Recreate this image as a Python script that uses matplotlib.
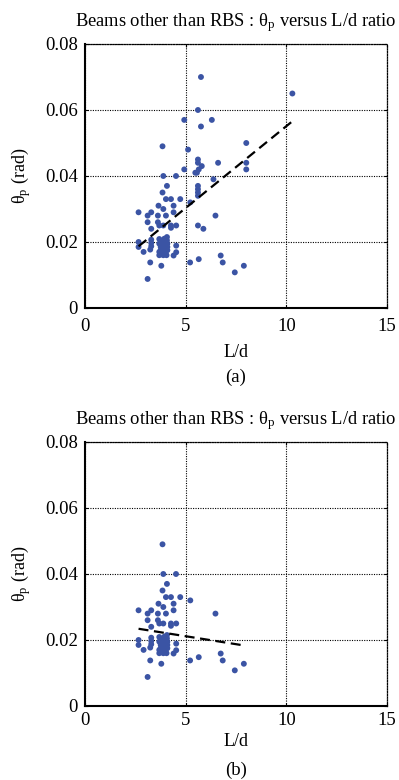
import matplotlib
matplotlib.use("Agg")
import matplotlib.pyplot as plt
import numpy as np

plt.rcParams['font.family'] = ['Liberation Serif', 'DejaVu Serif']
plt.rcParams['mathtext.fontset'] = 'custom'
plt.rcParams['mathtext.rm'] = 'Liberation Serif'
plt.rcParams['mathtext.it'] = 'Liberation Serif:italic'

# ---------------- data ----------------
# points shared by both panels (L/d, theta_p)
ld_common = [3.85, 3.89, 4.52, 4.07, 3.85, 4.02, 4.27, 4.73, 5.23, 3.65, 4.40, 3.89,
             2.66, 3.29, 4.40, 3.11, 3.62, 4.02, 6.48, 3.11, 3.62, 3.69, 3.89, 4.27,
             4.27, 4.53, 3.29,
             2.66, 2.66, 2.91, 3.29, 3.29, 3.29, 3.24, 3.69, 3.69, 3.69, 3.69,
             3.76, 3.76, 3.76, 3.89, 3.89, 3.89, 3.89, 3.89, 4.00, 4.00, 4.00, 4.00,
             4.05, 4.07, 4.07, 4.09, 4.09, 4.09, 3.82, 3.94,
             4.53, 4.53, 4.40, 3.24, 3.79, 3.11,
             5.22, 5.65, 6.74, 6.84, 7.44, 7.89]
theta_common = [0.049, 0.040, 0.040, 0.037, 0.035, 0.033, 0.033, 0.033, 0.032, 0.031, 0.031, 0.030,
                0.029, 0.029, 0.029, 0.028, 0.028, 0.028, 0.028, 0.026, 0.026, 0.025, 0.025, 0.025,
                0.0243, 0.025, 0.024,
                0.020, 0.0185, 0.017, 0.0207, 0.0197, 0.0187, 0.0177, 0.0209, 0.0195, 0.017, 0.016,
                0.0185, 0.0175, 0.0165, 0.0200, 0.0190, 0.0180, 0.0170, 0.0160, 0.0195, 0.0185, 0.0175, 0.0165,
                0.0160, 0.0215, 0.0205, 0.0195, 0.0185, 0.0175, 0.0200, 0.0210,
                0.0189, 0.0169, 0.0159, 0.0138, 0.0128, 0.0088,
                0.0138, 0.0148, 0.0159, 0.0138, 0.0108, 0.0128]

# extra points shown only in panel (a)
ld_extra_a = [5.76, 10.30, 5.61, 4.93, 6.30, 5.76, 8.01, 5.12, 5.61, 5.61, 6.61, 8.01,
              5.80, 5.65, 4.93, 8.01, 5.56, 5.48, 6.38, 5.61, 5.61, 5.61, 5.61, 5.61, 5.88]
theta_extra_a = [0.070, 0.065, 0.060, 0.057, 0.057, 0.055, 0.050, 0.048, 0.045, 0.044, 0.044, 0.044,
                 0.043, 0.042, 0.042, 0.042, 0.041, 0.041, 0.039, 0.037, 0.036, 0.035, 0.034, 0.025, 0.024]

# trend lines: (L/d start, L/d end, slope, intercept)
trend_a = (2.66, 10.30, 0.00496, 0.00550)
trend_b = (2.66, 7.84, -0.000965, 0.02597)

xticks = [0, 5, 10, 15]
yticks = [0, 0.02, 0.04, 0.06, 0.08]
ytick_labels = ['0', '0.02', '0.04', '0.06', '0.08']
title = 'Beams other than RBS : θ$_\\mathrm{p}$ versus L/d ratio'
ylabel = 'θ$_\\mathrm{p}$ (rad)'
xlabel = 'L/d'
panel_labels = ['(a)', '(b)']

# ---------------- plotting ----------------
W, H = 399, 780
fig = plt.figure(figsize=(W / 100, H / 100), dpi=100)

dot_color = '#3B54A4'


def panel(rect, ld, th, trend, plabel, plabel_y, xpad, xlabelpad):
    ax = fig.add_axes(rect)
    ax.scatter(ld, th, s=18, color=dot_color, edgecolors='none', zorder=3)
    x0, x1, m, b = trend
    xs = np.array([x0, x1])
    ax.plot(xs, m * xs + b, color='black', lw=1.6, ls=(0, (4.5, 2.5)), zorder=4)
    ax.set_xlim(0, 15)
    ax.set_ylim(0, 0.08)
    ax.set_xticks(xticks)
    ax.set_xticklabels([str(t) for t in xticks])
    ax.set_yticks(yticks)
    ax.set_yticklabels(ytick_labels)
    ax.grid(True, color='black', ls=(0, (1, 1.2)), lw=0.8)
    for s in ['left', 'bottom']:
        ax.spines[s].set_linewidth(1.5)
        ax.spines[s].set_color('black')
    for s in ['top', 'right']:
        ax.spines[s].set_linestyle((0, (1, 1.2)))
        ax.spines[s].set_linewidth(0.9)
    ax.tick_params(direction='in', length=2.5, width=0.8, labelsize=13.5,
                   top=True, right=True)
    ax.tick_params(axis='x', pad=xpad)
    ax.tick_params(axis='y', pad=5)
    ax.set_title(title, fontsize=13.3, pad=13)
    ax.set_ylabel(ylabel, fontsize=13, labelpad=9)
    ax.set_xlabel(xlabel, fontsize=13, labelpad=xlabelpad)
    fig.text(rect[0] + rect[2] / 2, plabel_y, plabel, ha='center', va='center', fontsize=13.5)
    return ax


left = 85 / W
width = 302 / W
# panel (a): axes top 44 px, bottom 308 px
panel([left, 1 - 308 / H, width, 264 / H],
      ld_common + ld_extra_a, theta_common + theta_extra_a, trend_a,
      panel_labels[0], 1 - 377 / H, 7.5, 6)
# panel (b): axes top 442 px, bottom 706 px
panel([left, 1 - 706 / H, width, 264 / H],
      ld_common, theta_common, trend_b,
      panel_labels[1], 1 - 770 / H, 4.5, 3)

fig.savefig('out.png', dpi=100)
